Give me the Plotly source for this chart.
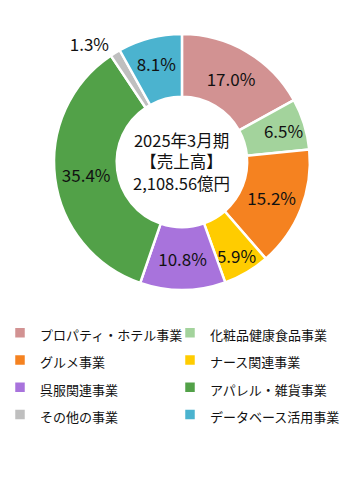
import plotly.graph_objects as go

labels = ["プロパティ・ホテル事業", "化粧品健康食品事業", "グルメ事業", "ナース関連事業",
          "呉服関連事業", "アパレル・雑貨事業", "その他の事業", "データベース活用事業"]
values = [17.0, 6.5, 15.2, 5.9, 10.8, 35.4, 1.3, 8.1]
colors = ["#D29292", "#A3D39C", "#F58220", "#FFCC00",
          "#A873DC", "#52A148", "#BFBFBF", "#4BB3CF"]
text_labels = [f"{v:.1f}%" for v in values]
center_text = "2025年3月期<br>【売上高】<br>2,108.56億円"

FONT = "Noto Sans CJK JP"
positions = ["outside" if v < 2 else "inside" for v in values]
legend_names = [f'<span style="font-size:13px">{n}</span>' for n in labels]

W, H = 342, 486

fig = go.Figure(go.Pie(
    labels=legend_names, values=values, sort=False, direction="clockwise", rotation=0,
    hole=0.51,
    marker=dict(colors=colors, line=dict(color="white", width=2.5)),
    text=text_labels, textinfo="text", textposition=positions,
    insidetextorientation="horizontal",
    textfont=dict(family=FONT, size=17, color="#111111"),
    domain=dict(x=[0.158, 0.906], y=[1 - 290 / H, 1 - 34 / H]),
    hoverinfo="label+percent",
    automargin=False,
))

fig.update_layout(
    width=W, height=H,
    margin=dict(l=0, r=0, t=0, b=0, autoexpand=False),
    paper_bgcolor="white",
    uniformtext=dict(minsize=17, mode="show"),
    annotations=[dict(text=center_text, x=(0.158 + 0.906) / 2, y=1 - 162 / H,
                      xref="paper", yref="paper", xanchor="center", yanchor="middle",
                      showarrow=False,
                      font=dict(family=FONT, size=16.5, color="#111111"), align="center")],
    legend=dict(orientation="h", x=0, y=1 - 314 / H, xanchor="left", yanchor="top",
                entrywidth=125, entrywidthmode="pixels",
                font=dict(family=FONT, size=18.7, color="#111111"),
                traceorder="normal", itemwidth=30),
)

fig.write_html("out.html")
